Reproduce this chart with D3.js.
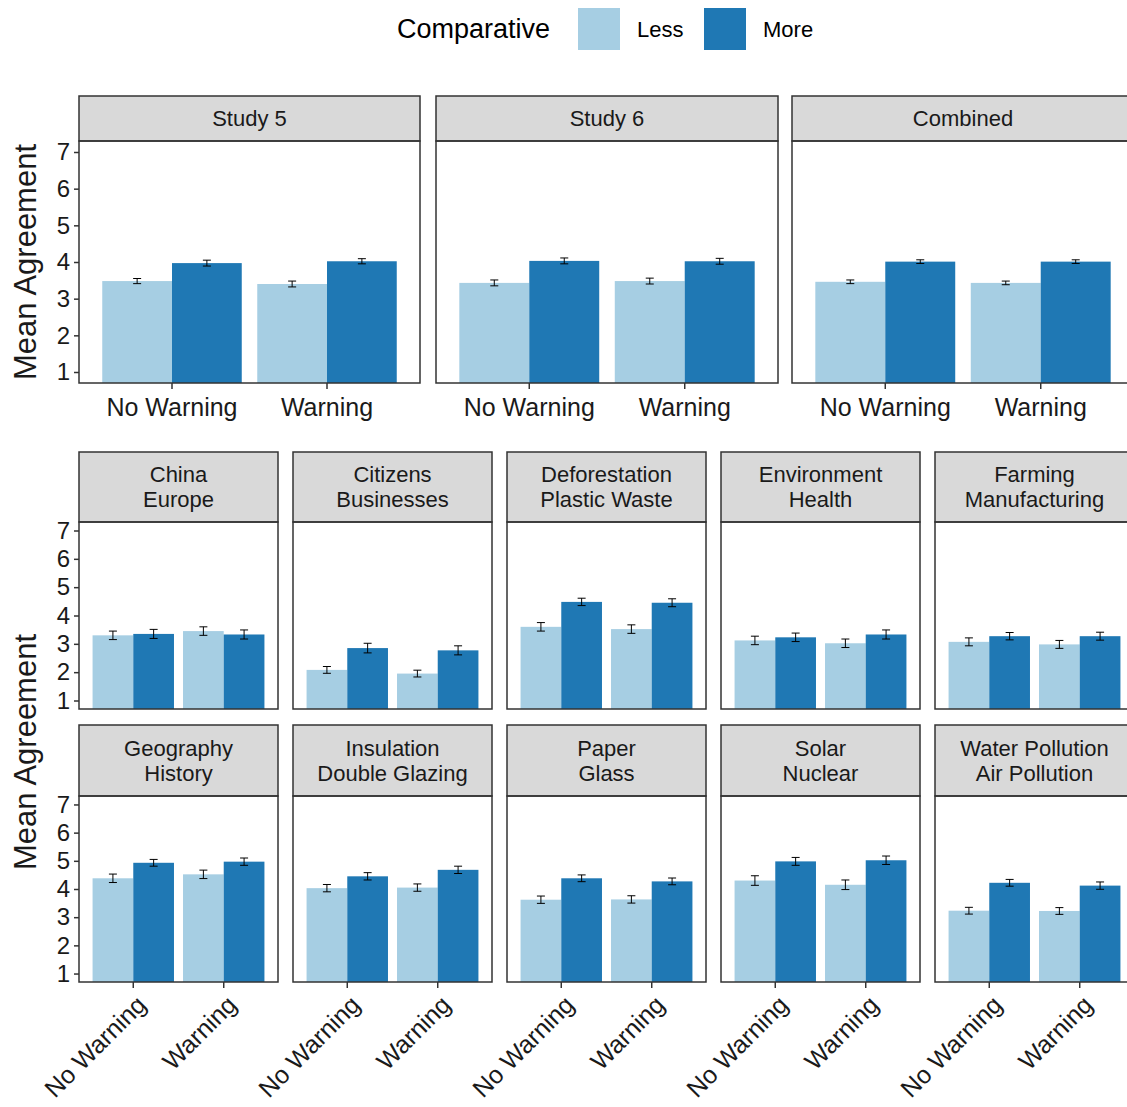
<!DOCTYPE html>
<html><head><meta charset="utf-8">
<script src="https://cdn.jsdelivr.net/npm/d3@7"></script>
<style>body{margin:0;background:#fff}</style>
</head><body>
<script>
const warnings = ["No Warning", "Warning"];
const comparatives = ["Less", "More"];
const topPanels = ["Study 5", "Study 6", "Combined"];
// values: [NW Less, NW More, W Less, W More]
const topMeans = [[3.48, 3.97, 3.40, 4.02], [3.43, 4.03, 3.48, 4.02], [3.46, 4.01, 3.43, 4.01]];
const topErr = [[0.07, 0.08, 0.08, 0.07], [0.08, 0.08, 0.08, 0.08], [0.05, 0.05, 0.05, 0.05]];
const topicPanels = [
  ["China", "Europe"], ["Citizens", "Businesses"], ["Deforestation", "Plastic Waste"],
  ["Environment", "Health"], ["Farming", "Manufacturing"],
  ["Geography", "History"], ["Insulation", "Double Glazing"], ["Paper", "Glass"],
  ["Solar", "Nuclear"], ["Water Pollution", "Air Pollution"]];
const topicMeans = [
  [3.30, 3.35, 3.45, 3.33], [2.08, 2.85, 1.95, 2.77], [3.60, 4.48, 3.52, 4.45],
  [3.12, 3.23, 3.02, 3.33], [3.07, 3.27, 2.98, 3.27],
  [4.38, 4.93, 4.52, 4.97], [4.03, 4.45, 4.05, 4.68], [3.62, 4.38, 3.63, 4.27],
  [4.30, 4.98, 4.15, 5.02], [3.23, 4.22, 3.22, 4.12]];
const topicErr = [
  [0.15, 0.16, 0.15, 0.16], [0.12, 0.17, 0.12, 0.16], [0.15, 0.13, 0.15, 0.14],
  [0.15, 0.15, 0.15, 0.16], [0.14, 0.13, 0.14, 0.14],
  [0.15, 0.12, 0.15, 0.13], [0.13, 0.13, 0.13, 0.13], [0.13, 0.12, 0.13, 0.12],
  [0.17, 0.14, 0.17, 0.15], [0.12, 0.12, 0.12, 0.13]];
const yTicks = [1, 2, 3, 4, 5, 6, 7];

const color = d3.scaleOrdinal().domain(comparatives).range(["#a6cee3", "#1f78b4"]);
const font = "Liberation Sans, Arial, sans-serif";

const svg = d3.select("body").append("svg").attr("width", 1127).attr("height", 1107)
  .style("font-family", font);

// legend
const lg = svg.append("g");
lg.append("text").attr("x", 397).attr("y", 38).attr("font-size", 27).text("Comparative");
[[578, 637], [704, 763]].forEach(([bx, tx], i) => {
  lg.append("rect").attr("x", bx).attr("y", 8).attr("width", 42).attr("height", 42).attr("fill", color(comparatives[i]));
  lg.append("text").attr("x", tx).attr("y", 37).attr("font-size", 22).text(comparatives[i]);
});

function panel(x0, x1, stripTop, plotTop, plotBot, label, means, errs, opts) {
  const g = svg.append("g");
  g.append("rect").attr("x", x0).attr("y", stripTop).attr("width", x1 - x0).attr("height", plotTop - stripTop)
    .attr("fill", "#d9d9d9").attr("stroke", "#333").attr("stroke-width", 1.5);
  const lines = Array.isArray(label) ? label : [label];
  const mid = (stripTop + plotTop) / 2;
  lines.forEach((l, i) => {
    g.append("text").attr("x", (x0 + x1) / 2).attr("y", mid + (i - (lines.length - 1) / 2) * 25)
      .attr("dy", "0.35em").attr("text-anchor", "middle").attr("font-size", 22).attr("fill", "#1a1a1a").text(l);
  });
  const y = d3.scaleLinear().domain([0.7, 7.3]).range([plotBot, plotTop]);
  // discrete x with 0.6-unit expansion on each side
  const step = (x1 - x0) / 2.2;
  const cx = w => x0 + step * (0.6 + warnings.indexOf(w));
  const xs = d3.scaleBand().domain(comparatives).range([-0.45 * step, 0.45 * step]);
  const data = [];
  warnings.forEach((w, i) => comparatives.forEach((c, j) => data.push({ w, c, v: means[i * 2 + j], e: errs[i * 2 + j] })));
  g.append("g").selectAll("rect").data(data).join("rect")
    .attr("x", d => cx(d.w) + xs(d.c)).attr("width", xs.bandwidth())
    .attr("y", d => y(d.v)).attr("height", d => plotBot - y(d.v)).attr("fill", d => color(d.c));
  const eb = g.append("g").attr("stroke", "#000").attr("stroke-width", 1);
  data.forEach(d => {
    const mx = cx(d.w) + xs(d.c) + xs.bandwidth() / 2;
    eb.append("line").attr("x1", mx).attr("x2", mx).attr("y1", y(d.v - d.e)).attr("y2", y(d.v + d.e));
    [d.v - d.e, d.v + d.e].forEach(v => eb.append("line").attr("x1", mx - 4).attr("x2", mx + 4).attr("y1", y(v)).attr("y2", y(v)));
  });
  g.append("rect").attr("x", x0).attr("y", plotTop).attr("width", x1 - x0).attr("height", plotBot - plotTop)
    .attr("fill", "none").attr("stroke", "#333").attr("stroke-width", 1.5);
  if (opts.yAxis) {
    const ya = g.append("g").attr("transform", `translate(${x0},0)`)
      .call(d3.axisLeft(y).tickValues(yTicks).tickFormat(d3.format("d")).tickSize(5).tickPadding(4));
    ya.select(".domain").remove();
    ya.selectAll(".tick line").attr("stroke", "#333").attr("stroke-width", 1.5);
    ya.selectAll(".tick text").attr("font-size", 24).attr("fill", "#1a1a1a").attr("font-family", font);
  }
  if (opts.xAxis) {
    warnings.forEach(w => {
      g.append("line").attr("x1", cx(w)).attr("x2", cx(w)).attr("y1", plotBot).attr("y2", plotBot + 6)
        .attr("stroke", "#333").attr("stroke-width", 1.5);
      if (opts.xAxis === "flat") {
        g.append("text").attr("x", cx(w)).attr("y", plotBot + 33).attr("text-anchor", "middle")
          .attr("font-size", 25).attr("fill", "#1a1a1a").text(w);
      } else {
        g.append("text").attr("transform", `translate(${cx(w) + 2},${plotBot + 12}) rotate(-45)`)
          .attr("text-anchor", "end").attr("dy", "0.7em").attr("font-size", 25).attr("fill", "#1a1a1a").text(w);
      }
    });
  }
}

const topX = [[79, 420], [436, 778], [792, 1134]];
topPanels.forEach((p, i) => panel(topX[i][0], topX[i][1], 96, 141, 383, p, topMeans[i], topErr[i],
  { yAxis: i === 0, xAxis: "flat" }));

const colW = 199, colStep = 214;
topicPanels.forEach((p, i) => {
  const r = Math.floor(i / 5), c = i % 5;
  const x0 = 79 + c * colStep;
  const [st, pt, pb] = r === 0 ? [452, 522, 709] : [725, 796, 982];
  panel(x0, x0 + colW, st, pt, pb, p, topicMeans[i], topicErr[i], { yAxis: c === 0, xAxis: r === 1 ? "rot" : null });
});

svg.append("text").attr("transform", "translate(36,262) rotate(-90)").attr("text-anchor", "middle")
  .attr("font-size", 31).attr("fill", "#1a1a1a").text("Mean Agreement");
svg.append("text").attr("transform", "translate(36,752) rotate(-90)").attr("text-anchor", "middle")
  .attr("font-size", 31).attr("fill", "#1a1a1a").text("Mean Agreement");
</script>
</body></html>
